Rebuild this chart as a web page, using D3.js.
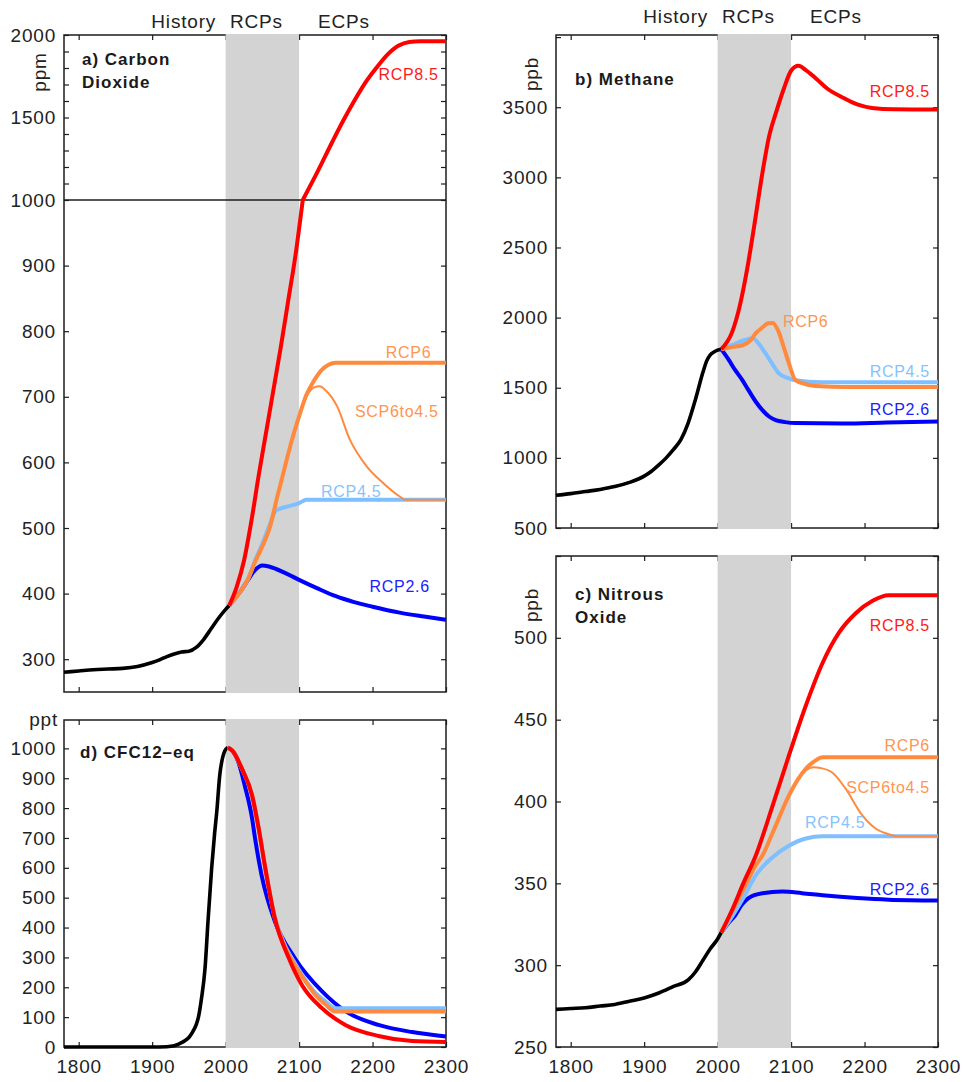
<!DOCTYPE html>
<html><head><meta charset="utf-8">
<script src="https://cdn.jsdelivr.net/npm/d3@7/dist/d3.min.js"></script>
<style>
body{margin:0;background:#fff}
svg{display:block}
text{font-family:"Liberation Sans",Arial,Helvetica,sans-serif}
</style>
</head><body>
<svg id="chart" width="965" height="1082"></svg>
<script>
// ---------------- DATA ----------------
const yearDomain = [1780, 2300];
const xTickYears = [1800, 1900, 2000, 2100, 2200, 2300];
const periodLabels = ["History", "RCPs", "ECPs"];
const scenarioNames = ["History", "RCP2.6", "RCP4.5", "SCP6to4.5", "RCP6", "RCP8.5"];

// a) Carbon dioxide (ppm)
const co2History = [[1780,280],[1800,282],[1820,284],[1840,285],[1860,286],[1880,289],[1900,295],[1910,299],[1920,304],[1930,308],[1940,311],[1950,312],[1960,318],[1970,330],[1980,346],[1990,362],[2000,376],[2005,382]];
const co2Rcp26 = [[2005,382],[2020,403],[2030,420],[2040,436],[2050,443],[2060,441],[2080,432],[2100,421],[2125,408],[2150,396],[2175,387],[2200,380],[2237,371],[2270,365],[2300,360]];
const co2Rcp45 = [[2005,382],[2020,403],[2030,421],[2040,450],[2050,476],[2060,505],[2068,526],[2075,530],[2085,533],[2100,538],[2110,543],[2300,543]];
const co2Scp6to45 = [[2005,382],[2020,403],[2030,421],[2040,448],[2050,472],[2060,500],[2070,546],[2080,590],[2090,633],[2100,670],[2110,700],[2120,714],[2128,716],[2136,710],[2152,685],[2169,635],[2192,594],[2214,569],[2237,548],[2245,543],[2300,543]];
const co2Rcp6 = [[2005,382],[2020,403],[2030,421],[2040,448],[2050,472],[2060,500],[2070,546],[2080,590],[2090,633],[2100,670],[2110,703],[2120,724],[2130,740],[2140,749],[2150,752],[2300,752]];
const co2Rcp85 = [[2005,382],[2015,410],[2025,450],[2035,510],[2045,580],[2055,645],[2065,710],[2075,775],[2085,845],[2095,915],[2105,1000],[2125,1170],[2145,1350],[2160,1480],[2175,1600],[2190,1710],[2205,1800],[2220,1880],[2235,1935],[2250,1958],[2265,1962],[2300,1962]];
const co2TickValues = [300,400,500,600,700,800,900,1000,1100,1200,1300,1400,1500,1600,1700,1800,1900,2000];
const co2TickLabels = [300,400,500,600,700,800,900,1000,1500,2000];

// b) Methane (ppb)
const ch4History = [[1780,733],[1800,745],[1820,760],[1840,775],[1860,795],[1880,825],[1900,870],[1910,905],[1920,950],[1930,1000],[1940,1060],[1950,1130],[1960,1250],[1970,1420],[1980,1610],[1985,1690],[1990,1735],[1995,1755],[2000,1768],[2005,1775]];
const ch4Rcp26 = [[2005,1775],[2015,1700],[2024,1625],[2033,1560],[2042,1483],[2052,1400],[2061,1340],[2070,1295],[2079,1269],[2092,1255],[2106,1248],[2170,1245],[2230,1252],[2300,1260]];
const ch4Rcp45 = [[2005,1775],[2020,1805],[2034,1835],[2048,1853],[2055,1820],[2065,1746],[2075,1665],[2083,1604],[2095,1570],[2106,1554],[2142,1540],[2300,1540]];
const ch4Rcp6 = [[2005,1775],[2020,1790],[2034,1803],[2045,1840],[2052,1889],[2060,1925],[2069,1960],[2075,1962],[2083,1900],[2090,1790],[2097,1675],[2106,1554],[2120,1525],[2140,1510],[2170,1505],[2300,1505]];
const ch4Rcp85 = [[2005,1775],[2020,1900],[2030,2080],[2040,2340],[2050,2660],[2060,3000],[2070,3290],[2080,3470],[2090,3630],[2100,3760],[2110,3795],[2120,3765],[2135,3700],[2150,3630],[2170,3570],[2190,3520],[2210,3495],[2240,3485],[2300,3484]];
const ch4TickValues = [500,1000,1500,2000,2500,3000,3500,4000];
const ch4TickLabels = [500,1000,1500,2000,2500,3000,3500];

// c) Nitrous oxide (ppb)
const n2oHistory = [[1780,273],[1800,273.5],[1820,274],[1840,275],[1860,276],[1880,278],[1900,280],[1920,283],[1940,287],[1960,291],[1970,296],[1980,303],[1990,310],[2000,316],[2005,320]];
const n2oRcp26 = [[2005,320],[2015,326],[2024,330.5],[2033,337],[2042,341],[2061,344],[2088,345],[2115,344],[2143,342.7],[2190,341],[2233,340],[2300,339.5]];
const n2oRcp45 = [[2005,320],[2020,330],[2035,341],[2052,355],[2075,366],[2097,373],[2120,377.4],[2143,378.7],[2300,378.7]];
const n2oScp6to45 = [[2005,320],[2020,333],[2035,346],[2052,361],[2061,367],[2075,381],[2097,403.6],[2110,414],[2120,419],[2130,421],[2140,420.5],[2156,417.7],[2174,408],[2197,391.5],[2215,383.5],[2233,380],[2245,378.7],[2300,378.7]];
const n2oRcp6 = [[2005,320],[2020,333],[2035,346],[2052,361],[2061,367],[2075,381],[2097,403.6],[2110,414],[2120,420],[2133,425],[2143,427],[2300,427]];
const n2oRcp85 = [[2005,320],[2020,334],[2035,350],[2052,367],[2075,397.6],[2097,428],[2120,458.5],[2143,484.8],[2165,503],[2188,515],[2211,522.6],[2233,526],[2300,526]];
const n2oTickValues = [250,300,350,400,450,500,550];
const n2oTickLabels = [250,300,350,400,450,500];

// d) CFC12-eq (ppt)
const cfcHistory = [[1780,0],[1900,0],[1920,1],[1930,4],[1936,10],[1945,22],[1950,32],[1955,50],[1960,75],[1963,100],[1967,160],[1972,264],[1976,420],[1981,599],[1985,715],[1988,789],[1992,910],[1996,970],[1999,992],[2003,1003]];
const cfcRcp26 = [[2003,1003],[2010,990],[2017,957],[2026,876],[2036,766],[2040,700],[2049,575],[2067,421],[2094,298],[2131,187],[2163,120],[2208,74],[2254,50],[2300,35]];
const cfcRcp45 = [[2003,1003],[2010,990],[2022,933],[2036,843],[2045,732],[2054,599],[2067,435],[2080,345],[2094,282],[2110,220],[2122,182],[2135,155],[2149,130],[2300,130]];
const cfcRcp6 = [[2003,1003],[2010,990],[2022,933],[2036,843],[2045,732],[2054,599],[2067,431],[2080,340],[2094,275],[2110,215],[2122,175],[2135,145],[2149,119],[2300,119]];
const cfcRcp85 = [[2003,1003],[2010,990],[2022,933],[2036,843],[2045,732],[2054,599],[2067,431],[2086,298],[2104,207],[2131,130],[2163,74],[2208,37],[2254,20],[2300,17]];
const cfcTickValues = [0,100,200,300,400,500,600,700,800,900,1000];

// ---------------- STYLE ----------------
const colors = {"History":"#000000","RCP2.6":"#0000ff","RCP4.5":"#7fbfff","SCP6to4.5":"#ff8a3d","RCP6":"#ff8a3d","RCP8.5":"#ff0000"};
const widths = {"History":3.6,"RCP2.6":4,"RCP4.5":4,"SCP6to4.5":2,"RCP6":4,"RCP8.5":4};
const labelColors = {"RCP2.6":"#2020ff","RCP4.5":"#86c3ff","SCP6to4.5":"#ff9550","RCP6":"#ff9550","RCP8.5":"#ff1a1a"};
const FONT = '"Liberation Sans",Arial,Helvetica,sans-serif';
const AXIS = "#1c1c1c";

const svg = d3.select("#chart");

function panel(o) {
  const x = d3.scaleLinear().domain(yearDomain).range([o.left, o.right]);
  const y = o.y;
  const g = svg.append("g");

  g.append("rect").attr("x", o.left).attr("y", o.top)
    .attr("width", o.right - o.left).attr("height", o.bottom - o.top)
    .attr("fill", "#fff").attr("stroke", AXIS).attr("stroke-width", 1.5);

  const styleAxis = sel => {
    sel.select(".domain").remove();
    sel.selectAll(".tick line").attr("stroke", AXIS).attr("stroke-width", 1.2);
    sel.selectAll(".tick text").attr("fill", "#222").attr("font-size", 19)
      .attr("font-family", FONT).style("letter-spacing", "0.8px");
  };

  g.append("g").attr("transform", `translate(${o.left},0)`)
    .call(d3.axisLeft(y).tickValues(o.yTicks).tickSizeInner(-5).tickSizeOuter(0).tickPadding(8)
      .tickFormat(d => o.yLabels.includes(d) ? String(d) : ""))
    .call(styleAxis);
  g.append("g").attr("transform", `translate(${o.right},0)`)
    .call(d3.axisRight(y).tickValues(o.yTicks).tickSizeInner(-5).tickSizeOuter(0).tickFormat(() => ""))
    .call(styleAxis);
  g.append("g").attr("transform", `translate(0,${o.top})`)
    .call(d3.axisTop(x).tickValues(xTickYears).tickSizeInner(-5).tickSizeOuter(0).tickFormat(() => ""))
    .call(styleAxis);
  g.append("g").attr("transform", `translate(0,${o.bottom})`)
    .call(d3.axisBottom(x).tickValues(xTickYears).tickSizeInner(-5).tickSizeOuter(0).tickPadding(12.5)
      .tickFormat(d => o.showX ? String(d) : ""))
    .call(styleAxis);

  // RCP period shading (drawn over the frame, as in the original)
  g.append("rect").attr("x", x(2000)).attr("y", o.top - 1)
    .attr("width", x(2100) - x(2000)).attr("height", o.bottom - o.top + 2)
    .attr("fill", "#d3d3d3");

  if (o.breakAt) {
    g.append("line").attr("x1", o.left).attr("x2", o.right)
      .attr("y1", y(o.breakAt)).attr("y2", y(o.breakAt))
      .attr("stroke", AXIS).attr("stroke-width", 1.5);
  }

  const line = d3.line().x(d => x(d[0])).y(d => y(d[1])).curve(d3.curveMonotoneX);
  o.series.forEach(s => {
    // on a broken axis, draw the parts below and above the break separately
    let parts = [s.data];
    if (o.breakAt && d3.max(s.data, d => d[1]) > o.breakAt) {
      parts = [s.data.filter(d => d[1] <= o.breakAt), s.data.filter(d => d[1] >= o.breakAt)];
    }
    parts.forEach(p => {
      g.append("path").datum(p).attr("d", line)
        .attr("fill", "none").attr("stroke", colors[s.name])
        .attr("stroke-width", widths[s.name]).attr("stroke-linejoin", "round")
        .attr("stroke-linecap", "butt");
    });
  });

  o.labels.forEach(l => {
    g.append("text").attr("x", x(l.at[0])).attr("y", y(l.at[1]))
      .attr("text-anchor", l.anchor || "end")
      .attr("font-size", 16).attr("font-family", FONT).style("letter-spacing", "0.7px")
      .attr("fill", labelColors[l.name]).text(l.name);
  });

  o.title.forEach((t, i) => {
    g.append("text").attr("x", o.left + o.titleDx).attr("y", o.top + o.titleDy + i * 22.5)
      .attr("font-size", 17).attr("font-weight", "bold").attr("font-family", FONT)
      .style("letter-spacing", "1px").attr("fill", "#1a1a1a").text(t);
  });

  if (o.unitRot) {
    g.append("text").attr("transform", `translate(${o.unitRot[0]},${o.unitRot[1]}) rotate(-90)`)
      .attr("text-anchor", "middle").attr("font-size", 19).attr("font-family", FONT)
      .style("letter-spacing", "0.8px").attr("fill", "#222").text(o.unit);
  }
  if (o.unitFlat) {
    g.append("text").attr("x", o.unitFlat[0]).attr("y", o.unitFlat[1])
      .attr("text-anchor", "end").attr("font-size", 19).attr("font-family", FONT)
      .style("letter-spacing", "0.8px").attr("fill", "#222").text(o.unit);
  }

  if (o.header) {
    const hy = o.header;
    const hs = [[periodLabels[0], x(1987), "end"], [periodLabels[1], x(2042), "middle"], [periodLabels[2], x(2161), "middle"]];
    hs.forEach(h => g.append("text").attr("x", h[1]).attr("y", hy).attr("text-anchor", h[2])
      .attr("font-size", 19).attr("font-family", FONT).style("letter-spacing", "0.8px")
      .attr("fill", "#222").text(h[0]));
  }
  return g;
}

// a) Carbon Dioxide — broken axis
panel({
  left: 64, right: 446, top: 35, bottom: 692,
  y: d3.scaleLinear().domain([250, 1000, 2000]).range([692, 200, 35]),
  yTicks: co2TickValues, yLabels: co2TickLabels, showX: false, breakAt: 1000,
  series: [
    {name: "History", data: co2History}, {name: "RCP2.6", data: co2Rcp26},
    {name: "RCP4.5", data: co2Rcp45}, {name: "SCP6to4.5", data: co2Scp6to45},
    {name: "RCP6", data: co2Rcp6}, {name: "RCP8.5", data: co2Rcp85}
  ],
  labels: [
    {name: "RCP8.5", at: [2290, 1727]}, {name: "RCP6", at: [2280, 759]},
    {name: "SCP6to4.5", at: [2290, 669]}, {name: "RCP4.5", at: [2130, 547], anchor: "start"},
    {name: "RCP2.6", at: [2278, 402]}
  ],
  title: ["a) Carbon", "Dioxide"], titleDx: 18, titleDy: 30,
  unit: "ppm", unitRot: [46, 72], header: 28
});

// b) Methane
panel({
  left: 556, right: 938, top: 35, bottom: 528,
  y: d3.scaleLinear().domain([500, 4015]).range([528, 35]),
  yTicks: ch4TickValues, yLabels: ch4TickLabels, showX: false,
  series: [
    {name: "History", data: ch4History}, {name: "RCP2.6", data: ch4Rcp26},
    {name: "RCP4.5", data: ch4Rcp45}, {name: "RCP6", data: ch4Rcp6},
    {name: "RCP8.5", data: ch4Rcp85}
  ],
  labels: [
    {name: "RCP8.5", at: [2289, 3573]}, {name: "RCP6", at: [2089, 1933], anchor: "start"},
    {name: "RCP4.5", at: [2289, 1577]}, {name: "RCP2.6", at: [2289, 1306]}
  ],
  title: ["b) Methane"], titleDx: 19, titleDy: 50,
  unit: "ppb", unitRot: [538, 74], header: 23
});

// c) Nitrous Oxide
panel({
  left: 556, right: 938, top: 556, bottom: 1047,
  y: d3.scaleLinear().domain([250, 550]).range([1047, 556]),
  yTicks: n2oTickValues, yLabels: n2oTickLabels, showX: true,
  series: [
    {name: "History", data: n2oHistory}, {name: "RCP2.6", data: n2oRcp26},
    {name: "RCP4.5", data: n2oRcp45}, {name: "SCP6to4.5", data: n2oScp6to45},
    {name: "RCP6", data: n2oRcp6}, {name: "RCP8.5", data: n2oRcp85}
  ],
  labels: [
    {name: "RCP8.5", at: [2289, 504.2]}, {name: "RCP6", at: [2289, 430.9]},
    {name: "SCP6to4.5", at: [2289, 405.2]}, {name: "RCP4.5", at: [2119, 383.8], anchor: "start"},
    {name: "RCP2.6", at: [2289, 342.9]}
  ],
  title: ["c) Nitrous", "Oxide"], titleDx: 19, titleDy: 44,
  unit: "ppb", unitRot: [538, 605]
});

// d) CFC12-eq
panel({
  left: 64, right: 446, top: 720, bottom: 1047,
  y: d3.scaleLinear().domain([0, 1095]).range([1047, 720]),
  yTicks: cfcTickValues, yLabels: cfcTickValues, showX: true,
  series: [
    {name: "History", data: cfcHistory}, {name: "RCP2.6", data: cfcRcp26},
    {name: "RCP4.5", data: cfcRcp45}, {name: "RCP6", data: cfcRcp6},
    {name: "RCP8.5", data: cfcRcp85}
  ],
  labels: [],
  title: ["d) CFC12\u2013eq"], titleDx: 16, titleDy: 38,
  unit: "ppt", unitFlat: [58, 726]
});
</script>
</body></html>
